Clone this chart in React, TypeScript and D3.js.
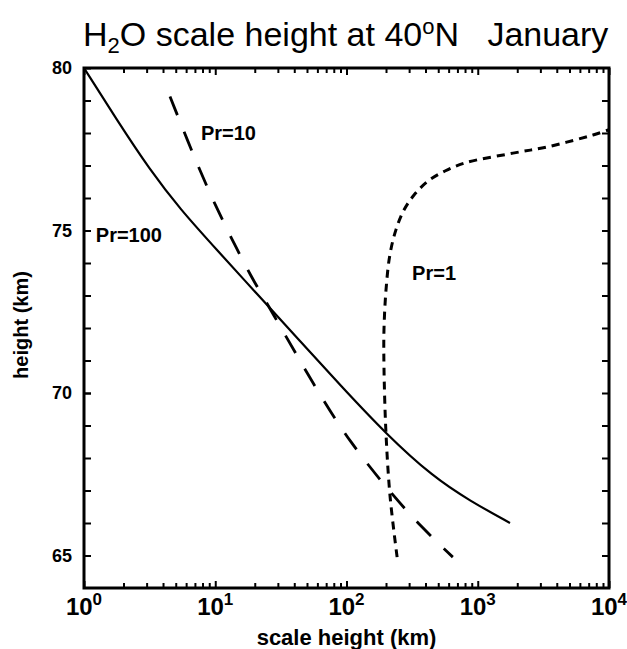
import * as d3 from 'd3'
import { useRef, useEffect } from 'react'

// Pr=100 (solid)
const pr100Scale = [1, 1.78, 3.18, 5.39, 10.3, 21.9, 44.2, 89.2, 200, 456, 873, 1761]
const pr100Height = [80, 78.4, 76.86, 75.66, 74.4, 72.95, 71.6, 70.25, 68.74, 67.42, 66.68, 66.0]

// Pr=10 (long dash)
const pr10Scale = [4.52, 6.89, 9.33, 12.9, 18.6, 26, 57.5, 105, 222, 366, 646]
const pr10Height = [79.12, 77.27, 76.04, 74.86, 73.6, 72.62, 70.18, 68.5, 66.88, 65.9, 64.95]

// Pr=1 (short dash)
const pr1Scale = [243, 215, 200, 193, 193, 200, 214, 238, 274, 327, 418, 563, 800, 1856, 3370, 7550, 10000]
const pr1Height = [64.95, 66.8, 68.74, 70.8, 71.94, 73.17, 74.25, 75.02, 75.63, 76.09, 76.52, 76.83, 77.08, 77.38, 77.57, 77.94, 78.1]

const xDecades = [0, 1, 2, 3, 4]
const yMajor = [65, 70, 75, 80]

const FONT = 'Liberation Sans, Arial, Helvetica, sans-serif'

const App = () => {
  const chart = useRef()

  useEffect(() => {
    drawChart()
  }, [])

  const drawChart = () => {
    const margin = { top: 68, right: 18, bottom: 61, left: 84 }
    const W = 627
    const H = 649
    const width = W - margin.left - margin.right
    const height = H - margin.top - margin.bottom

    const root = d3.select(chart.current)
    root.selectAll('*').remove()
    const svg = root
      .append('g')
      .attr('transform', 'translate(' + margin.left + ',' + margin.top + ')')

    const x = d3.scaleLog().domain([1, 10000]).range([0, width])
    const y = d3.scaleLinear().domain([64, 80]).range([height, 0])

    const minorX = []
    xDecades.slice(0, -1).forEach((p) => {
      for (let k = 2; k <= 9; k++) minorX.push(k * Math.pow(10, p))
    })
    const majorX = xDecades.map((p) => Math.pow(10, p))
    const minorY = d3.range(65, 80, 1)

    const tickStyle = (g) => {
      g.select('.domain').remove()
      g.selectAll('line').attr('stroke', '#000').attr('stroke-width', 2)
    }

    // x ticks, bottom & top, pointing inward
    svg.append('g').attr('transform', 'translate(0,' + height + ')')
      .call(d3.axisBottom(x).tickValues(minorX).tickSize(-5).tickFormat(''))
      .call(tickStyle)
    svg.append('g').attr('transform', 'translate(0,' + height + ')')
      .call(d3.axisBottom(x).tickValues(majorX).tickSize(-7).tickFormat(''))
      .call(tickStyle)
    svg.append('g')
      .call(d3.axisTop(x).tickValues(minorX).tickSize(-5).tickFormat(''))
      .call(tickStyle)
    svg.append('g')
      .call(d3.axisTop(x).tickValues(majorX).tickSize(-7).tickFormat(''))
      .call(tickStyle)

    // y ticks, left (with labels) & right
    svg.append('g')
      .call(d3.axisLeft(y).tickValues(minorY).tickSize(-7).tickFormat(''))
      .call(tickStyle)
    svg.append('g')
      .call(d3.axisLeft(y).tickValues(yMajor).tickSizeInner(-7).tickSizeOuter(0).tickPadding(12))
      .call(tickStyle)
      .call((g) => g.selectAll('text')
        .attr('font-family', FONT)
        .attr('font-weight', 'bold')
        .attr('font-size', 18)
        .attr('fill', '#000'))
    svg.append('g').attr('transform', 'translate(' + width + ',0)')
      .call(d3.axisRight(y).tickValues(minorY).tickSize(-7).tickFormat(''))
      .call(tickStyle)

    // frame
    svg.append('rect')
      .attr('width', width).attr('height', height)
      .attr('fill', 'none').attr('stroke', '#000').attr('stroke-width', 3)

    // x labels 10^n
    const xl = svg.append('g')
      .attr('font-family', FONT)
      .attr('font-weight', 'bold')
      .selectAll('text')
      .data(xDecades)
      .enter()
      .append('text')
      .attr('x', (d) => x(Math.pow(10, d)))
      .attr('y', height + 27)
      .attr('text-anchor', 'middle')
      .attr('font-size', 24)
    xl.append('tspan').text('10')
    xl.append('tspan').attr('dy', -10).attr('font-size', 17).text((d) => d)

    // curves
    const line = d3.line()
      .x((d) => x(d[0]))
      .y((d) => y(d[1]))

    const plot = svg.append('g').attr('fill', 'none').attr('stroke', '#000')
    plot.append('path')
      .datum(d3.zip(pr100Scale, pr100Height))
      .attr('d', line.curve(d3.curveBasis))
      .attr('stroke-width', 2.2)
    plot.append('path')
      .datum(d3.zip(pr10Scale, pr10Height))
      .attr('d', line.curve(d3.curveBasis))
      .attr('stroke-width', 2.8)
      .attr('stroke-dasharray', '20,18')
    plot.append('path')
      .datum(d3.zip(pr1Scale, pr1Height))
      .attr('d', line.curve(d3.curveCatmullRom.alpha(0.5)))
      .attr('stroke-width', 3)
      .attr('stroke-dasharray', '8,6')

    // curve labels
    const lab = svg.append('g')
      .attr('font-family', FONT)
      .attr('font-weight', 'bold')
      .attr('font-size', 20)
    lab.append('text').attr('x', x(1.23)).attr('y', y(74.65)).text('Pr=100')
    lab.append('text').attr('x', x(7.78)).attr('y', y(77.78)).text('Pr=10')
    lab.append('text').attr('x', x(316)).attr('y', y(73.48)).text('Pr=1')

    // axis titles
    root.append('text')
      .attr('x', margin.left + width / 2)
      .attr('y', 645)
      .attr('text-anchor', 'middle')
      .attr('font-family', FONT)
      .attr('font-weight', 'bold')
      .attr('font-size', 22)
      .text('scale height (km)')
    root.append('text')
      .attr('transform', 'translate(28,325) rotate(-90)')
      .attr('text-anchor', 'middle')
      .attr('font-family', FONT)
      .attr('font-weight', 'bold')
      .attr('font-size', 20)
      .text('height (km)')

    // title
    const title = root.append('text')
      .attr('x', 83)
      .attr('y', 46)
      .attr('font-family', FONT)
      .attr('font-size', 34)
    title.append('tspan').text('H')
    title.append('tspan').attr('dy', 7).attr('font-size', 22).text('2')
    title.append('tspan').attr('dy', -7).text('O scale height at 40')
    title.append('tspan').attr('dy', -12).attr('font-size', 22).text('o')
    title.append('tspan').attr('dy', 12).attr('xml:space', 'preserve').text('N   January')
  }

  return (
    <svg ref={chart} width={627} height={649}
      style={{ position: 'absolute', left: 0, top: 0, background: '#fff' }}></svg>
  )
}

export default App
